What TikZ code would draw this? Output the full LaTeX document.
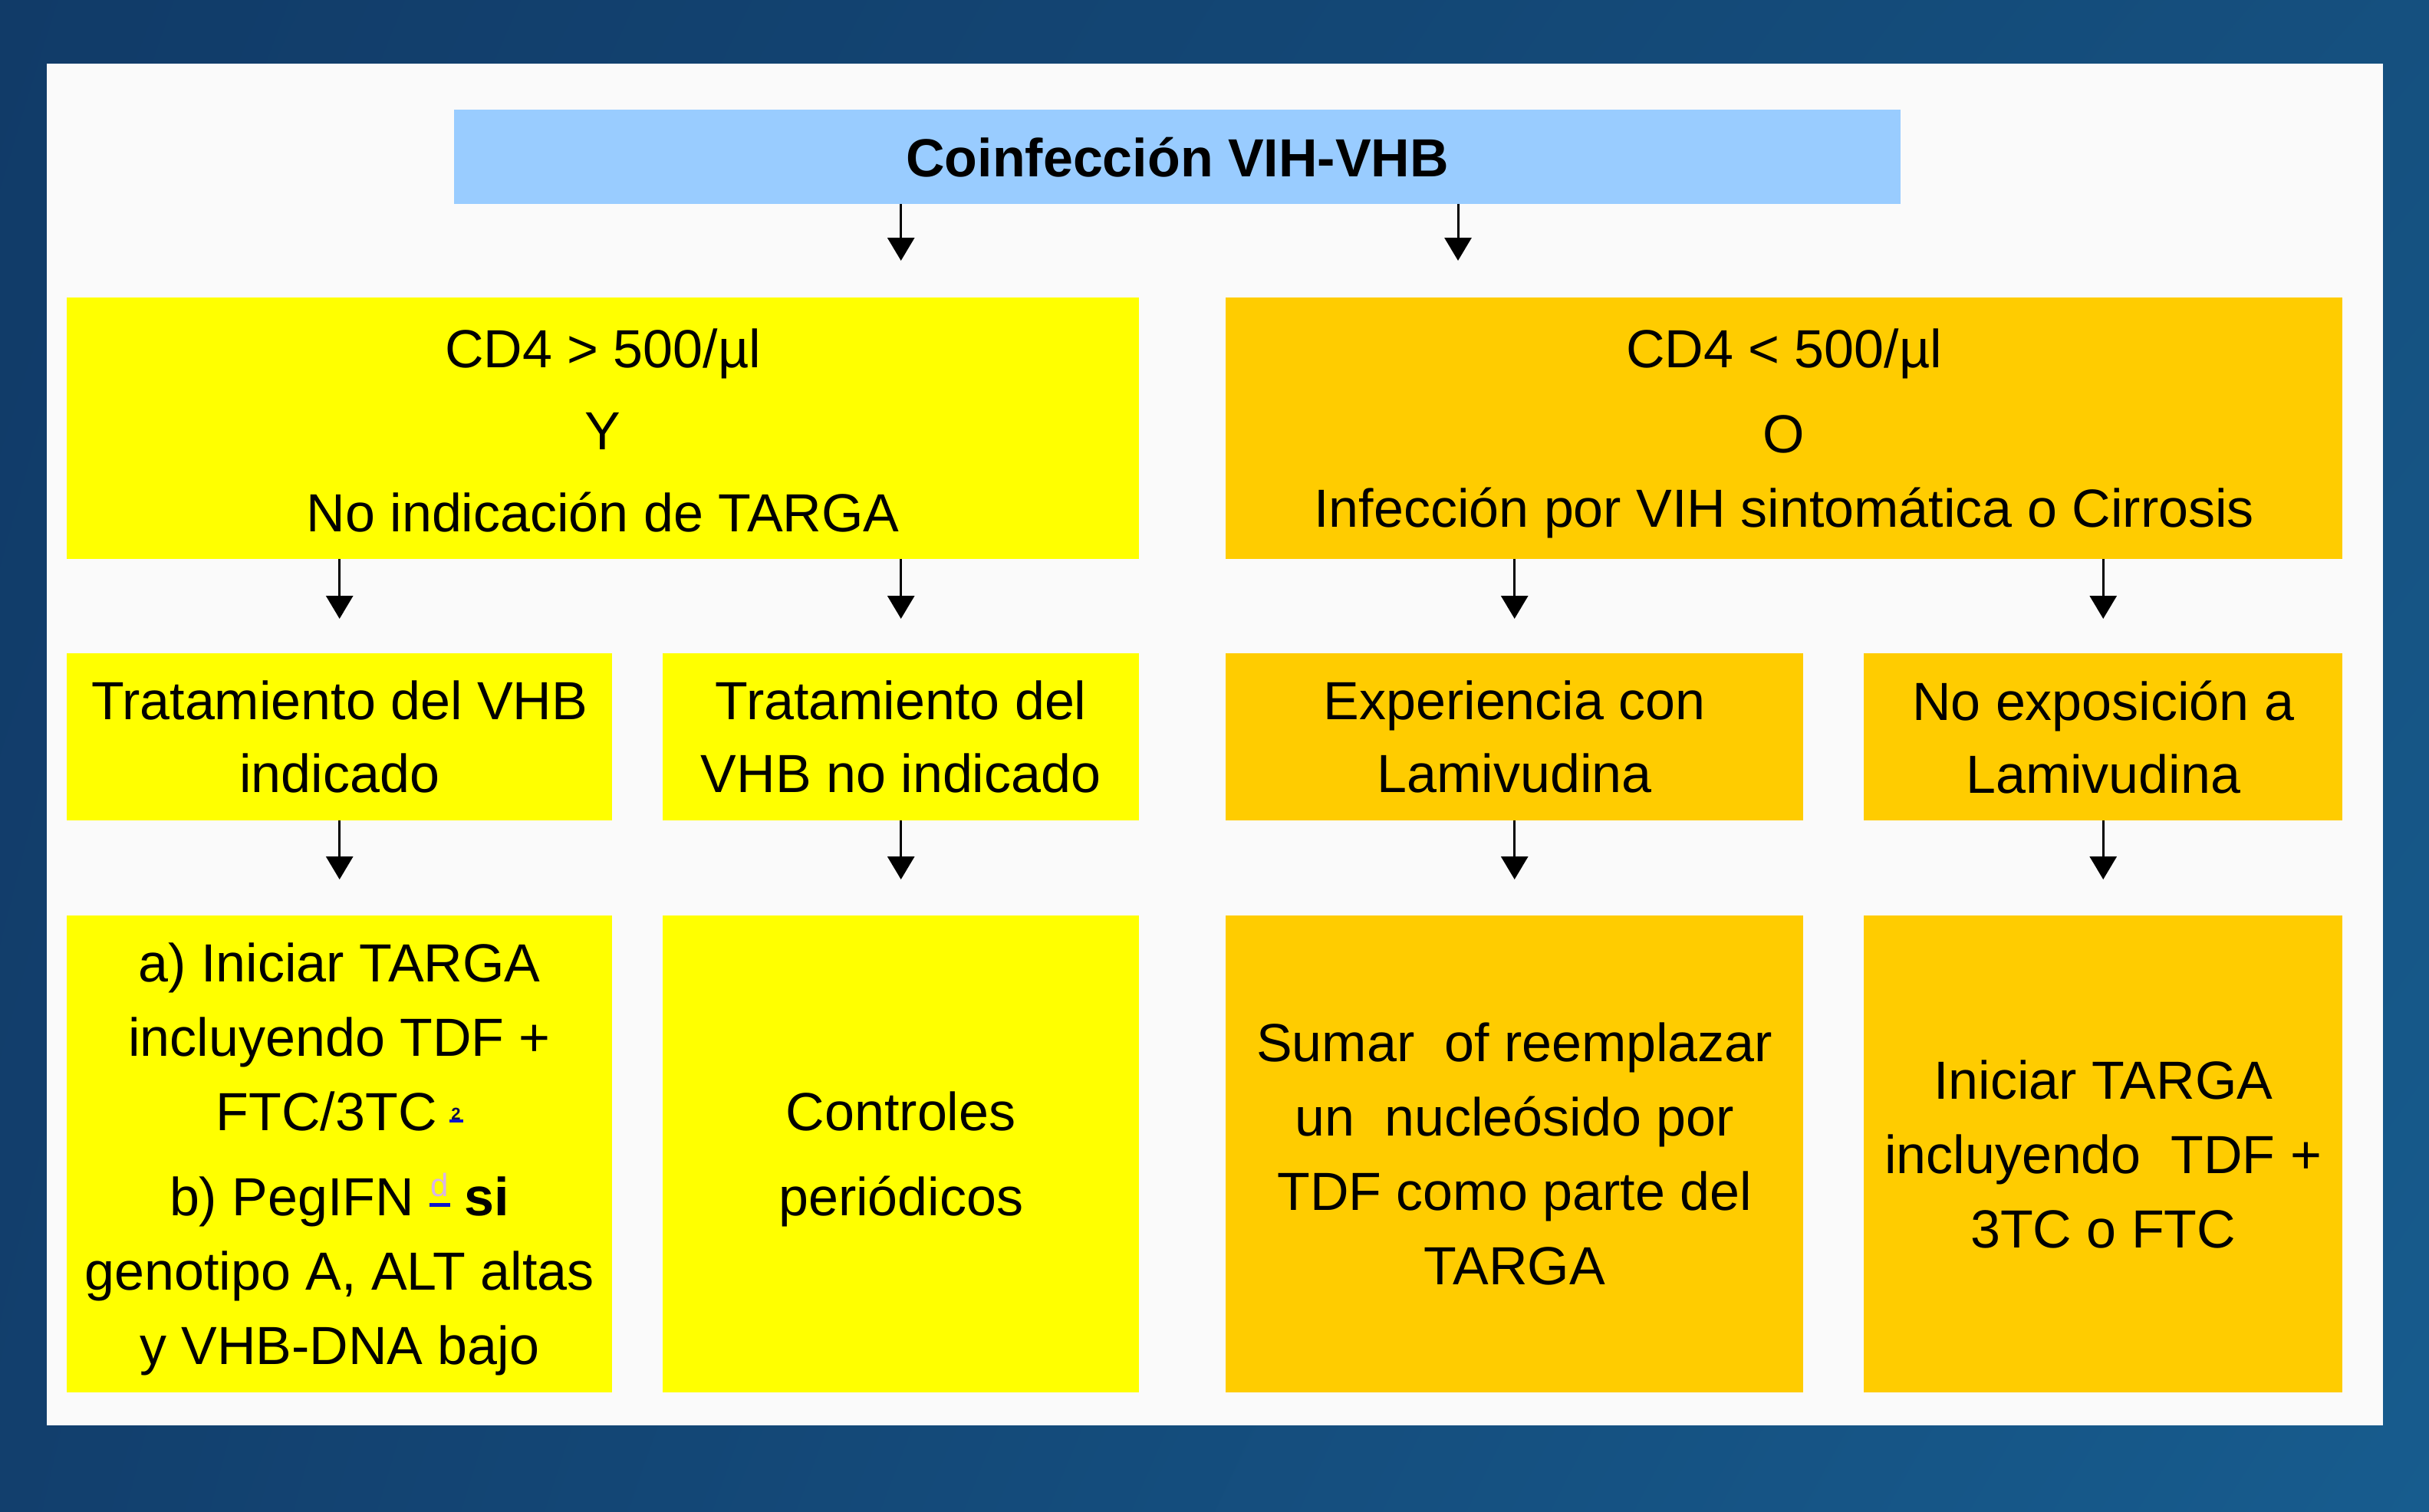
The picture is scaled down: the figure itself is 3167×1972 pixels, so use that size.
\documentclass[tikz,border=0pt]{standalone}
\usepackage{fontspec}
\setmainfont{Liberation Sans}
\usetikzlibrary{arrows.meta,calc,shadings}
\definecolor{titleblue}{HTML}{99CCFF}
\definecolor{yel}{HTML}{FFFF00}
\definecolor{ora}{HTML}{FFCC00}
\definecolor{panel}{HTML}{FAFAFA}
\definecolor{bgA}{HTML}{113B68}
\definecolor{bgB}{HTML}{15507F}
\definecolor{bgC}{HTML}{123F6D}
\definecolor{bgD}{HTML}{175C8E}
\definecolor{lnkblue}{HTML}{0A14D0}
\definecolor{navy}{HTML}{10104A}
\definecolor{lav}{HTML}{D8B4E8}
\newcommand{\mkfoot}{\hspace{16pt}\rlap{\raisebox{10pt}{\color{lnkblue}\rule{18pt}{4pt}}}\raisebox{14pt}{\makebox[18pt]{\fontsize{22}{22}\selectfont\bfseries\color{navy}2}}}
\newcommand{\mkd}{\ \rlap{\raisebox{11pt}{\color{lnkblue}\rule{27pt}{5pt}}}\raisebox{25pt}{\makebox[27pt]{\fontsize{42}{42}\selectfont\color{lav}d}}\ }
\newcommand{\dnstrut}[1]{\rule{0pt}{#1}}
\tikzset{
  box/.style={rectangle, inner sep=0pt, anchor=north west, align=center, text=black},
  rowone/.style={box, minimum height=341pt, font=\fontsize{70}{107}\selectfont},
  rowtwo/.style={box, minimum height=218pt, font=\fontsize{70}{95}\selectfont},
  rowthree/.style={box, minimum height=622pt, font=\fontsize{70}{97}\selectfont},
  arr/.style={line width=3pt, draw=black, -{Triangle[width=35pt,length=30pt]}}
}
\begin{document}
\begin{tikzpicture}[x=1pt,y=-1pt]
\useasboundingbox (0,0) rectangle (3167,1972);
\shade[upper left=bgA, upper right=bgB, lower left=bgC, lower right=bgD] (0,0) rectangle (3167,1972);
\fill[panel] (61,83) rectangle (3107,1859);

\node[box, fill=titleblue, minimum width=1886pt, minimum height=123pt, font=\fontsize{70}{84}\selectfont\bfseries] (title) at (592,143) {Coinfección VIH-VHB};

\node[rowone, fill=yel, minimum width=1398pt] (left) at (87,388) {\dnstrut{56pt}CD4 > 500/µl\\Y\\No indicación de TARGA};
\node[rowone, fill=ora, minimum width=1456pt, font=\fontsize{70}{97}\selectfont] (right) at (1598,388) {\dnstrut{64pt}CD4 < 500/µl\\[14pt]O\\Infección por VIH sintomática o Cirrosis};

\node[rowtwo, fill=yel, minimum width=711pt] (ta) at (87,852) {Tratamiento del VHB\\indicado};
\node[rowtwo, fill=yel, minimum width=621pt] (tb) at (864,852) {Tratamiento del\\VHB no indicado};
\node[rowtwo, fill=ora, minimum width=753pt] (tc) at (1598,852) {Experiencia con\\Lamivudina};
\node[rowtwo, fill=ora, minimum width=624pt] (td) at (2430,852) {No exposición a\\Lamivudina};

\node[rowthree, fill=yel, minimum width=711pt] (ba) at (87,1194) {\dnstrut{64pt}a) Iniciar TARGA\\incluyendo TDF +\\FTC/3TC\mkfoot\\[14pt]b) PegIFN\mkd\textbf{si}\\genotipo A, ALT altas\\y VHB-DNA bajo};
\node[rowthree, fill=yel, minimum width=621pt] (bb) at (864,1194) {\dnstrut{64pt}Controles\\[14pt]periódicos};
\node[rowthree, fill=ora, minimum width=753pt] (bc) at (1598,1194) {Sumar\ \ of reemplazar\\un\ \ nucleósido por\\TDF como parte del\\TARGA};
\node[rowthree, fill=ora, minimum width=624pt] (bd) at (2430,1194) {Iniciar TARGA\\incluyendo\ \ TDF +\\3TC o FTC};

\coordinate (tx) at (1901,0);
\draw[arr] (title.south -| tb.north) -- ([yshift=48pt]left.north -| tb.north);
\draw[arr] (title.south -| tx) -- ([yshift=48pt]right.north -| tx);

\draw[arr] (left.south -| ta.north) -- ([yshift=45pt]ta.north);
\draw[arr] (left.south -| tb.north) -- ([yshift=45pt]tb.north);
\draw[arr] (right.south -| tc.north) -- ([yshift=45pt]tc.north);
\draw[arr] (right.south -| td.north) -- ([yshift=45pt]td.north);

\draw[arr] (ta.south) -- ([yshift=47pt]ba.north);
\draw[arr] (tb.south) -- ([yshift=47pt]bb.north);
\draw[arr] (tc.south) -- ([yshift=47pt]bc.north);
\draw[arr] (td.south) -- ([yshift=47pt]bd.north);
\end{tikzpicture}
\end{document}
